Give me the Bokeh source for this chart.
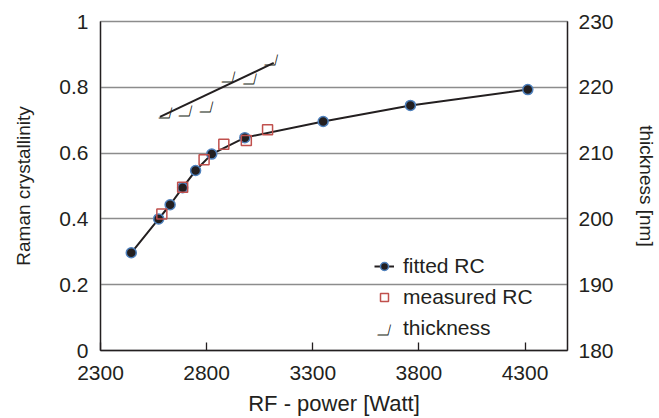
from bokeh.plotting import figure
from bokeh.models import Range1d, LinearAxis, FixedTicker, Legend, LegendItem, Label
from bokeh.core.properties import value
from bokeh.embed import file_html
from bokeh.resources import INLINE

# ---- data ----
power_fit = [2445, 2574, 2628, 2687, 2748, 2824, 2980, 3349, 3760, 4313]
rc_fit = [0.297, 0.400, 0.443, 0.495, 0.547, 0.597, 0.647, 0.696, 0.745, 0.793]
power_meas = [2589, 2687, 2788, 2881, 2987, 3087]
rc_meas = [0.415, 0.496, 0.580, 0.627, 0.638, 0.671]
power_thick = [2614, 2709, 2808, 2911, 3012, 3113]
thickness = [215.5, 215.8, 216.4, 220.9, 220.6, 223.6]
trend_power = [2580, 3116]
trend_thickness = [215.5, 223.7]
x_ticks = [2300, 2800, 3300, 3800, 4300]
y_ticks = [0, 0.2, 0.4, 0.6, 0.8, 1]
y_tick_labels = ["0", "0.2", "0.4", "0.6", "0.8", "1"]
thick_ticks = [180, 190, 200, 210, 220, 230]

FONT = "Liberation Sans"
TXT = "#231f20"
TICK_FS = "21px"
MARK = "┘"
MARK_FONT = "Noto Sans CJK SC"
MARK_FS = "21px"

p = figure(width=659, height=418, x_range=Range1d(2300, 4500), y_range=Range1d(0, 1),
           output_backend="svg", toolbar_location=None,
           min_border_left=100, min_border_right=87, min_border_top=21, min_border_bottom=68)
p.extra_y_ranges = {"thick": Range1d(180, 230)}
p.outline_line_color = "#8c8c8c"
p.outline_line_width = 1.5
p.background_fill_color = "white"
p.border_fill_color = "white"

def style_axis(ax, title_fs):
    ax.major_label_text_font = FONT
    ax.major_label_text_font_size = TICK_FS
    ax.major_label_text_color = TXT
    ax.axis_label_text_font = FONT
    ax.axis_label_text_font_size = title_fs
    ax.axis_label_text_font_style = "normal"
    ax.axis_label_text_color = TXT
    ax.axis_line_color = TXT
    ax.axis_line_width = 1.3
    ax.minor_tick_line_color = None
    ax.major_tick_line_color = TXT
    ax.major_tick_line_width = 1.3

xa = p.xaxis[0]
style_axis(xa, "22px")
xa.ticker = FixedTicker(ticks=x_ticks)
xa.major_tick_in = 8
xa.major_tick_out = 0
xa.major_label_standoff = 15
xa.axis_label = "RF - power [Watt]"
xa.axis_label_standoff = 8

ya = p.yaxis[0]
style_axis(ya, "19px")
ya.ticker = FixedTicker(ticks=y_ticks)
ya.major_label_overrides = {t: s for t, s in zip(y_ticks, y_tick_labels)}
ya.major_tick_in = 0
ya.major_tick_out = 0
ya.major_label_standoff = 12
ya.axis_label = "Raman crystallinity"
ya.axis_label_standoff = 22

ra = LinearAxis(y_range_name="thick", ticker=FixedTicker(ticks=thick_ticks))
style_axis(ra, "19px")
ra.major_tick_in = 0
ra.major_tick_out = 0
ra.major_label_standoff = 11
ra.axis_label = "thickness [nm]"
ra.axis_label_standoff = 19
p.add_layout(ra, "right")

p.xgrid.visible = False
p.ygrid.ticker = FixedTicker(ticks=y_ticks)
p.ygrid.grid_line_color = "#8c8c8c"
p.ygrid.grid_line_width = 1.5

r_line = p.line(power_fit, rc_fit, line_color=TXT, line_width=2)
r_fit = p.scatter(power_fit, rc_fit, marker="circle", size=10, fill_color=TXT,
                  line_color="#4f81bd", line_width=1.5)
r_meas = p.scatter(power_meas, rc_meas, marker="square", size=10, fill_color=None,
                   line_color="#c0504d", line_width=1.5)
p.line(trend_power, trend_thickness, y_range_name="thick", line_color=TXT, line_width=2)
r_thick = p.text(power_thick, thickness, text=value(MARK), y_range_name="thick",
                 text_font=value(MARK_FONT), text_font_size=MARK_FS,
                 text_font_style="bold italic", text_align="center",
                 text_baseline="middle", text_color=TXT)

legend = Legend(items=[LegendItem(label="fitted RC", renderers=[r_line, r_fit]),
                       LegendItem(label="measured RC", renderers=[r_meas]),
                       LegendItem(label="thickness", renderers=[r_thick])],
                location=(274, 10))
legend.label_text_font = FONT
legend.label_text_font_size = "21px"
legend.label_text_color = TXT
legend.glyph_width = 20
legend.glyph_height = 20
legend.label_standoff = 9
legend.spacing = 7
legend.padding = 0
legend.margin = 0
legend.border_line_color = None
legend.background_fill_alpha = 0
p.add_layout(legend)
p.add_layout(Label(x=285.5, y=17, x_units="screen", y_units="screen", text=MARK,
                   text_font=MARK_FONT, text_font_size=MARK_FS, text_font_style="bold italic",
                   text_align="center", text_baseline="middle", text_color=TXT))

open("out.html", "w").write(file_html(p, INLINE))
